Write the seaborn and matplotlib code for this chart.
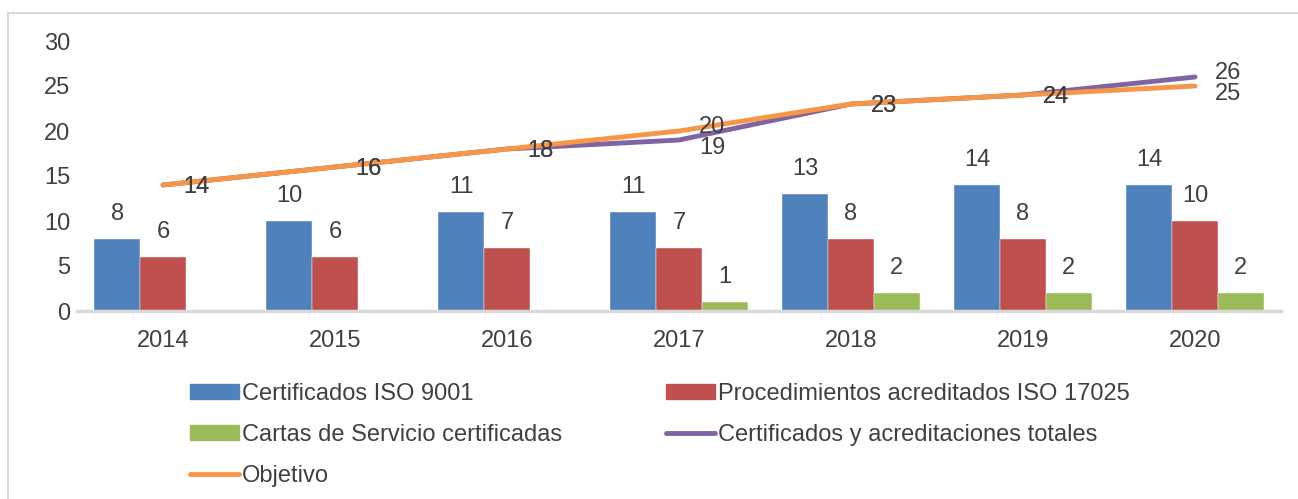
import numpy as np
import pandas as pd
import matplotlib
matplotlib.use("Agg")
import matplotlib.pyplot as plt
from matplotlib.patches import Rectangle, Patch
from matplotlib.lines import Line2D
import seaborn as sns

# data
years = ["2014", "2015", "2016", "2017", "2018", "2019", "2020"]
iso9001 = [8, 10, 11, 11, 13, 14, 14]
iso17025 = [6, 6, 7, 7, 8, 8, 10]
cartas = [0, 0, 0, 1, 2, 2, 2]
totales = [14, 16, 18, 19, 23, 24, 26]
objetivo = [14, 16, 18, 20, 23, 24, 25]

bar_names = ["Certificados ISO 9001", "Procedimientos acreditados ISO 17025",
             "Cartas de Servicio certificadas"]
line_names = ["Certificados y acreditaciones totales", "Objetivo"]
bar_colors = ["#4F81BD", "#C0504D", "#9BBB59"]
line_colors = ["#8064A2", "#F79646"]
txt = "#404040"
fs = 17

df = pd.DataFrame({
    "year": years * 3,
    "value": iso9001 + iso17025 + cartas,
    "serie": np.repeat(bar_names, len(years)),
})

sns.set_style("white")
plt.rcParams["font.family"] = ["Liberation Sans", "DejaVu Sans"]

fig = plt.figure(figsize=(12.98, 4.99), dpi=100)
ax = fig.add_axes([77 / 1298, (499 - 311) / 499, 1204 / 1298, 270 / 499])

# outer chart border
fig.patches.append(Rectangle((8 / 1298, -0.05), 1.1, (499 - 13) / 499 + 0.05,
                             transform=fig.transFigure, fill=False,
                             edgecolor="#D9D9D9", lw=1.5))

sns.barplot(data=df, x="year", y="value", hue="serie", palette=bar_colors,
            saturation=1, width=0.8, ax=ax, legend=False,
            edgecolor="white", linewidth=0.3)

for cont, vals in zip(ax.containers, [iso9001, iso17025, cartas]):
    labels = [str(v) if v > 0 else "" for v in vals]
    ax.bar_label(cont, labels=labels, padding=10, fontsize=fs, color=txt)

# line labels: push apart a little where the two lines are close but differ
xs = np.arange(len(years))
diff = np.array(totales) - np.array(objetivo)
for k, (vals, c) in enumerate(zip([totales, objetivo], line_colors)):
    ax.plot(xs, vals, color=c, lw=3.5, solid_capstyle="round", zorder=5)
    sign = 1 if k == 0 else -1
    for x, v, d in zip(xs, vals, diff):
        dy = -1.5 + (sign * np.sign(d) * 4.5 if d != 0 else 0)
        ax.annotate(str(v), (x, v), xytext=(24, dy), textcoords="offset points",
                    ha="center", va="center", fontsize=fs, color=txt, zorder=6)

ax.set_ylim(0, 30)
ax.set_xlim(-0.5, 6.5)
ax.set_yticks(range(0, 31, 5))
ax.set_xlabel("")
ax.set_ylabel("")
ax.tick_params(axis="both", length=0, labelsize=fs, labelcolor=txt)
ax.tick_params(axis="x", pad=14)
ax.tick_params(axis="y", pad=5)
for s in ["top", "right", "left"]:
    ax.spines[s].set_visible(False)
ax.spines["bottom"].set_color("#D9D9D9")
ax.spines["bottom"].set_linewidth(2.5)

handles = [
    Patch(color=bar_colors[0], label=bar_names[0]),
    Patch(color=bar_colors[2], label=bar_names[2]),
    Line2D([], [], color=line_colors[1], lw=3.5, label=line_names[1]),
    Patch(color=bar_colors[1], label=bar_names[1]),
    Line2D([], [], color=line_colors[0], lw=3.5, label=line_names[0]),
]
leg = fig.legend(handles=handles, ncol=2, loc="upper left",
                 bbox_to_anchor=(178 / 1298, (499 - 371) / 499), frameon=False,
                 fontsize=fs, handlelength=2.1, handleheight=0.6,
                 handletextpad=0.1, labelspacing=0.8, columnspacing=4.4,
                 borderpad=0)
for t in leg.get_texts():
    t.set_color(txt)

fig.savefig("out.png", dpi=100)
